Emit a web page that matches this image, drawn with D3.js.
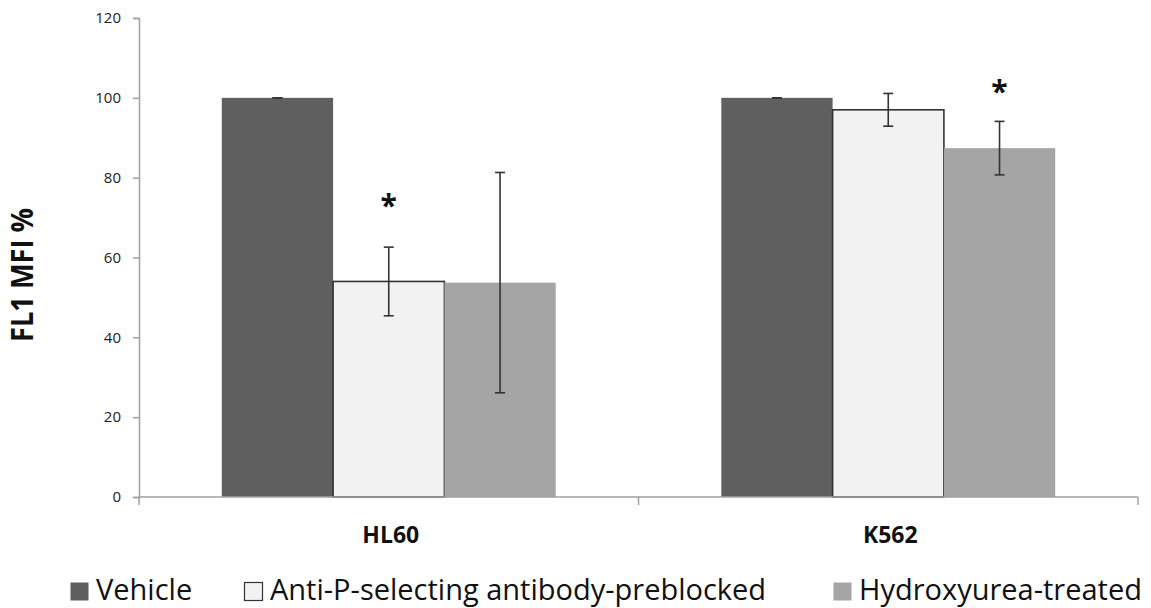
<!DOCTYPE html>
<html>
<head>
<meta charset="utf-8">
<script src="https://cdn.jsdelivr.net/npm/d3@7"></script>
<style>
  html, body { margin: 0; padding: 0; background: #fff; }
  svg { display: block; }
</style>
</head>
<body>
<svg id="chart" width="1151" height="608"></svg>
<script>
// ---- data ----
const categories = ["HL60", "K562"];
const seriesNames = ["Vehicle", "Anti-P-selecting antibody-preblocked", "Hydroxyurea-treated"];
const vehicle = [100, 100];
const antiP = [54.0, 97.0];
const hydroxyurea = [53.7, 87.4];
const vehicleErr = [0, 0];
const antiPErr = [8.6, 4.1];
const hydroxyureaErr = [27.6, 6.7];
// significance markers: [category, series index, y position in data units]
const asterisks = [["HL60", 1, 74.2], ["K562", 2, 102.7]];
const yTicks = [0, 20, 40, 60, 80, 100, 120];
const yTitle = "FL1 MFI %";

const seriesValues = [vehicle, antiP, hydroxyurea];
const seriesErrs = [vehicleErr, antiPErr, hydroxyureaErr];
const fills = ["#5f5f5f", "#f2f2f2", "#a5a5a5"];
const strokes = ["none", "#333333", "none"];

const svg = d3.select("#chart");
const font = "'Open Sans', 'Noto Sans', sans-serif";

const x0 = d3.scaleBand().domain(categories).range([139, 1138]).paddingInner(0).paddingOuter(0);
const x1 = d3.scaleBand().domain(d3.range(seriesNames.length)).range([0, x0.bandwidth()]).paddingInner(0).paddingOuter(0.744);
const y = d3.scaleLinear().domain([0, 120]).range([497, 18]);

// bars
const rows = [];
categories.forEach((c, ci) => {
  seriesNames.forEach((s, si) => {
    rows.push({c, si, v: seriesValues[si][ci], e: seriesErrs[si][ci]});
  });
});

svg.append("g").selectAll("rect").data(rows).join("rect")
  .attr("x", d => x0(d.c) + x1(d.si))
  .attr("y", d => y(d.v))
  .attr("width", x1.bandwidth())
  .attr("height", d => y(0) - y(d.v))
  .attr("fill", d => fills[d.si])
  .attr("stroke", d => strokes[d.si])
  .attr("stroke-width", 1.6);

// axes
const yAxis = d3.axisLeft(y).tickValues(yTicks).tickSize(6).tickPadding(12).tickFormat(d3.format("d"));
const gy = svg.append("g").attr("transform", "translate(139,0)").call(yAxis);
gy.select(".domain").attr("stroke", "#a0a0a0").attr("stroke-width", 1.5);
gy.selectAll(".tick line").attr("stroke", "#a0a0a0").attr("stroke-width", 1.5);
gy.selectAll(".tick text").attr("font-family", font).attr("font-size", 15).attr("fill", "#222");

const gx = svg.append("g");
gx.append("line").attr("x1", x0.range()[0]).attr("x2", x0.range()[1])
  .attr("y1", y(0)).attr("y2", y(0)).attr("stroke", "#a0a0a0").attr("stroke-width", 1.5);
const edges = categories.map(c => x0(c)).concat([x0.range()[1]]);
gx.selectAll("line.edge").data(edges).join("line").attr("class", "edge")
  .attr("x1", d => d).attr("x2", d => d).attr("y1", y(0)).attr("y2", y(0) + 8)
  .attr("stroke", "#a0a0a0").attr("stroke-width", 1.5);
gx.selectAll("text").data(categories).join("text")
  .attr("x", d => x0(d) + x0.bandwidth() / 2 + 2)
  .attr("y", 543)
  .attr("text-anchor", "middle")
  .attr("font-family", font).attr("font-weight", "bold").attr("font-size", 23).attr("fill", "#111")
  .text(d => d);

// error bars
const eg = svg.append("g").attr("stroke", "#333").attr("stroke-width", 1.6);
rows.forEach(d => {
  const cx = x0(d.c) + x1(d.si) + x1.bandwidth() / 2;
  eg.append("line").attr("x1", cx).attr("x2", cx).attr("y1", y(d.v + d.e)).attr("y2", y(d.v - d.e));
  [d.v + d.e, d.v - d.e].forEach(v => {
    eg.append("line").attr("x1", cx - 5).attr("x2", cx + 5).attr("y1", y(v)).attr("y2", y(v));
  });
});

// asterisks
svg.append("g").selectAll("text").data(asterisks).join("text")
  .attr("x", d => x0(d[0]) + x1(d[1]) + x1.bandwidth() / 2)
  .attr("y", d => y(d[2]) + 15)
  .attr("text-anchor", "middle")
  .attr("font-family", font).attr("font-weight", "bold").attr("font-size", 30).attr("fill", "#111")
  .text("*");

// y title
svg.append("text")
  .attr("transform", "translate(33,275) rotate(-90)")
  .attr("text-anchor", "middle")
  .attr("font-family", font).attr("font-weight", "bold").attr("font-size", 30)
  .attr("textLength", 134).attr("lengthAdjust", "spacingAndGlyphs")
  .attr("fill", "#111")
  .text(yTitle);

// legend
const legendX = [70, 244, 833];
const lg = svg.append("g").selectAll("g").data(seriesNames).join("g")
  .attr("transform", (d, i) => `translate(${legendX[i]},582)`);
lg.append("rect").attr("x", 0.5).attr("y", 0.5).attr("width", 18).attr("height", 18)
  .attr("fill", (d, i) => fills[i])
  .attr("stroke", (d, i) => i === 1 ? "#333" : "none").attr("stroke-width", 1.2);
lg.append("text").attr("x", 26).attr("y", 18)
  .attr("font-family", font).attr("font-size", 29).attr("fill", "#111")
  .text(d => d);
</script>
</body>
</html>
